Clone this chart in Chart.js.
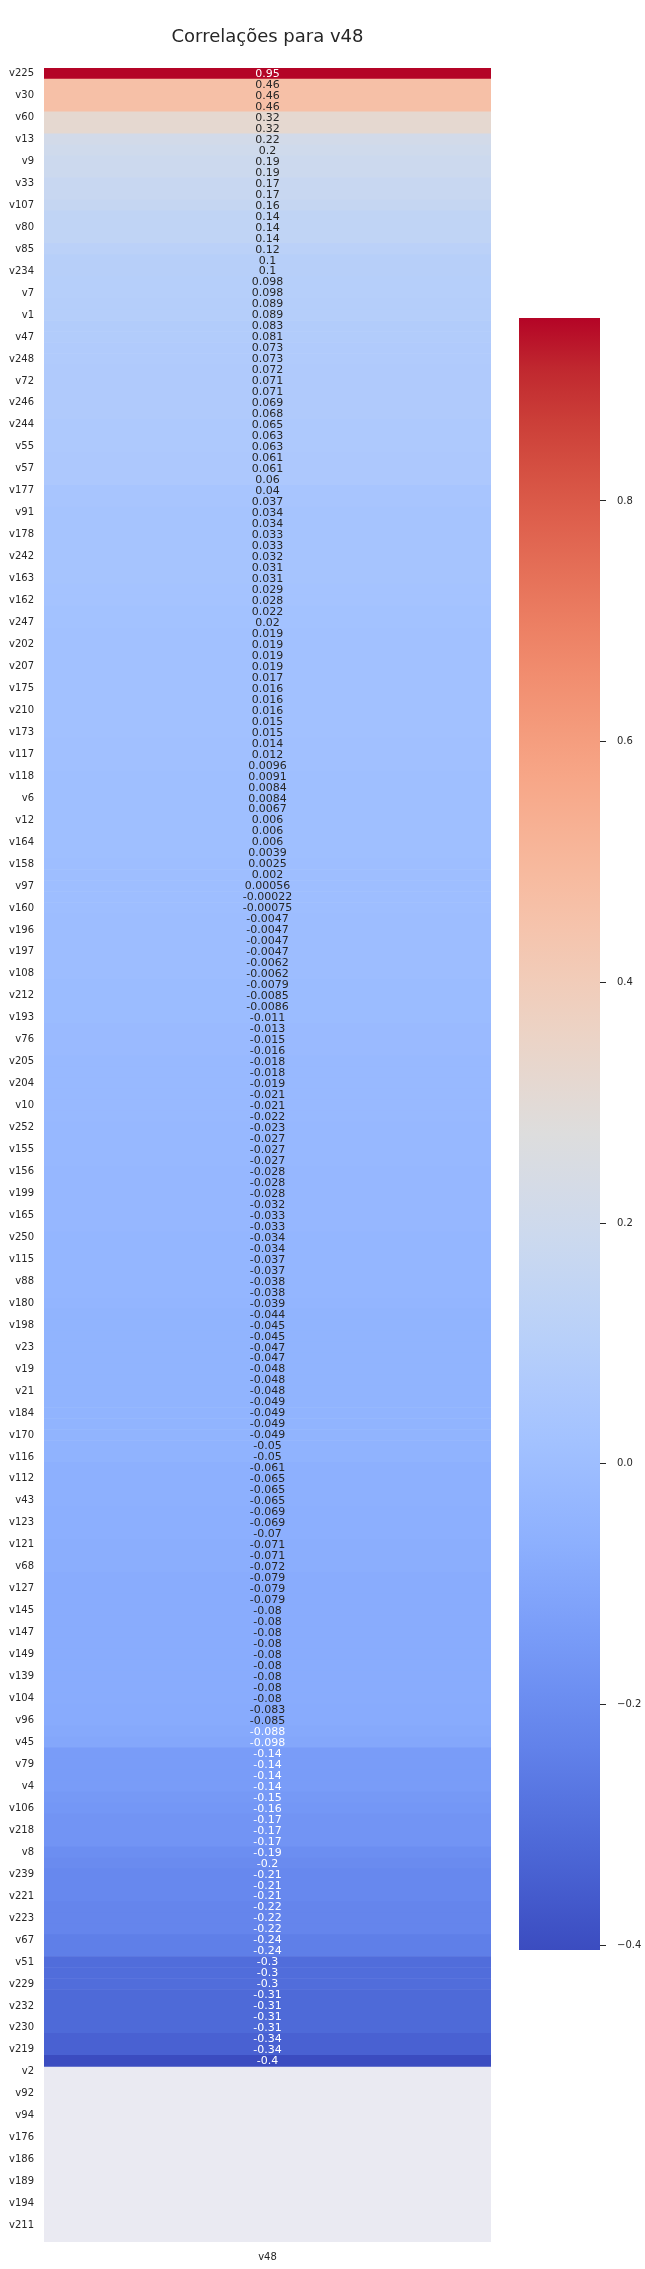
<!DOCTYPE html>
<html>
<head>
<meta charset="utf-8">
<script src="https://cdn.jsdelivr.net/npm/chart.js@4/dist/chart.umd.min.js"></script>
<style>
  body { margin: 0; background: #fff; }
  canvas { position: absolute; left: 0; top: 0; }
</style>
</head>
<body>
<canvas id="heat" width="645" height="2269"></canvas>
<canvas id="cbar" width="645" height="2269"></canvas>
<script>
// labels shown on the y axis (only every other row gets a label)
var shownLabels = ['v225','v30','v60','v13','v9','v33','v107','v80','v85','v234',
  'v7','v1','v47','v248','v72','v246','v244','v55','v57','v177',
  'v91','v178','v242','v163','v162','v247','v202','v207','v175','v210',
  'v173','v117','v118','v6','v12','v164','v158','v97','v160','v196',
  'v197','v108','v212','v193','v76','v205','v204','v10','v252','v155',
  'v156','v199','v165','v250','v115','v88','v180','v198','v23','v19',
  'v21','v184','v170','v116','v112','v43','v123','v121','v68','v127',
  'v145','v147','v149','v139','v104','v96','v45','v79','v4','v106',
  'v218','v8','v239','v221','v223','v67','v51','v229','v232','v230',
  'v219','v2','v92','v94','v176','v186','v189','v194','v211'];

var columns = ['v48'];

// correlation with v48, top to bottom (null = NaN)
var corr = [0.95, 0.46, 0.46, 0.46, 0.32, 0.32, 0.22, 0.2, 0.19, 0.19,
  0.17, 0.17, 0.16, 0.14, 0.14, 0.14, 0.12, 0.1, 0.1, 0.098,
  0.098, 0.089, 0.089, 0.083, 0.081, 0.073, 0.073, 0.072, 0.071, 0.071,
  0.069, 0.068, 0.065, 0.063, 0.063, 0.061, 0.061, 0.06, 0.04, 0.037,
  0.034, 0.034, 0.033, 0.033, 0.032, 0.031, 0.031, 0.029, 0.028, 0.022,
  0.02, 0.019, 0.019, 0.019, 0.019, 0.017, 0.016, 0.016, 0.016, 0.015,
  0.015, 0.014, 0.012, 0.0096, 0.0091, 0.0084, 0.0084, 0.0067, 0.006, 0.006,
  0.006, 0.0039, 0.0025, 0.002, 0.00056, -0.00022, -0.00075, -0.0047, -0.0047, -0.0047,
  -0.0047, -0.0062, -0.0062, -0.0079, -0.0085, -0.0086, -0.011, -0.013, -0.015, -0.016,
  -0.018, -0.018, -0.019, -0.021, -0.021, -0.022, -0.023, -0.027, -0.027, -0.027,
  -0.028, -0.028, -0.028, -0.032, -0.033, -0.033, -0.034, -0.034, -0.037, -0.037,
  -0.038, -0.038, -0.039, -0.044, -0.045, -0.045, -0.047, -0.047, -0.048, -0.048,
  -0.048, -0.049, -0.049, -0.049, -0.049, -0.05, -0.05, -0.061, -0.065, -0.065,
  -0.065, -0.069, -0.069, -0.07, -0.071, -0.071, -0.072, -0.079, -0.079, -0.079,
  -0.08, -0.08, -0.08, -0.08, -0.08, -0.08, -0.08, -0.08, -0.08, -0.083,
  -0.085, -0.088, -0.098, -0.14, -0.14, -0.14, -0.14, -0.15, -0.16, -0.17,
  -0.17, -0.17, -0.19, -0.2, -0.21, -0.21, -0.21, -0.22, -0.22, -0.22,
  -0.24, -0.24, -0.3, -0.3, -0.3, -0.31, -0.31, -0.31, -0.31, -0.34,
  -0.34, -0.4,
  null, null, null, null, null, null, null, null,
  null, null, null, null, null, null, null, null];

// colour scale limits (min / max of the unrounded data)
var colorRange = [-0.404, 0.952];
var cbarTicks = [-0.4, -0.2, 0.0, 0.2, 0.4, 0.6, 0.8];

var rowLabels = [];
shownLabels.forEach(function(l) { rowLabels.push(l, ''); });

var FONT = '"DejaVu Sans", sans-serif';
var TEXT = '#262626';

// coolwarm colormap, 33 points
var coolwarm = [[59,76,192],[68,90,204],[77,104,215],[87,117,225],[98,130,234],
  [108,142,241],[119,154,247],[130,165,251],[141,176,254],[152,185,255],
  [163,194,255],[174,201,253],[184,208,249],[194,213,244],[204,217,238],
  [213,219,230],[221,221,221],[229,216,209],[236,211,197],[241,204,185],
  [245,196,173],[247,187,160],[247,177,148],[247,166,135],[244,154,123],
  [241,141,111],[236,127,99],[229,112,88],[222,96,77],[213,80,66],
  [203,62,56],[192,40,47],[180,4,38]];

function cmapRgb(v) {
  var t = (v - colorRange[0]) / (colorRange[1] - colorRange[0]);
  t = Math.max(0, Math.min(1, t));
  var s = Math.min(255, Math.floor(t * 256)) / 255;
  var pos = s * 32, i = Math.min(31, Math.floor(pos)), f = pos - i;
  var a = coolwarm[i], b = coolwarm[i + 1];
  return [0, 1, 2].map(function(k) { return Math.round(a[k] + (b[k] - a[k]) * f); });
}
function rgbStr(c) { return 'rgb(' + c[0] + ',' + c[1] + ',' + c[2] + ')'; }

function textColor(v) {
  var c = cmapRgb(v).map(function(x) {
    x = x / 255;
    return x <= 0.03928 ? x / 12.92 : Math.pow((x + 0.055) / 1.055, 2.4);
  });
  var lum = 0.2126 * c[0] + 0.7152 * c[1] + 0.0722 * c[2];
  return lum > 0.408 ? TEXT : '#ffffff';
}

function fmt(v) { return String(Number(v.toPrecision(2))); }

var bgPlugin = {
  id: 'bg',
  beforeDraw: function(chart) {
    var a = chart.chartArea, ctx = chart.ctx;
    ctx.save();
    ctx.fillStyle = '#eaeaf2';
    ctx.fillRect(a.left, a.top, a.right - a.left, a.bottom - a.top);
    ctx.restore();
  }
};

var annotPlugin = {
  id: 'annot',
  afterDatasetsDraw: function(chart) {
    var ctx = chart.ctx;
    var meta = chart.getDatasetMeta(0);
    ctx.save();
    ctx.font = '11px ' + FONT;
    ctx.textAlign = 'center';
    ctx.textBaseline = 'middle';
    meta.data.forEach(function(bar, i) {
      var v = corr[i];
      if (v === null) return;
      ctx.fillStyle = textColor(v);
      ctx.fillText(fmt(v), (bar.x + bar.base) / 2, bar.y + 0.5);
    });
    ctx.restore();
  }
};

var titlePlugin = {
  id: 'ttl',
  afterDraw: function(chart) {
    var a = chart.chartArea, ctx = chart.ctx;
    ctx.save();
    ctx.font = '18px ' + FONT;
    ctx.fillStyle = TEXT;
    ctx.textAlign = 'center';
    ctx.textBaseline = 'middle';
    ctx.fillText('Correlações para ' + columns[0], (a.left + a.right) / 2, 37);
    ctx.restore();
  }
};

new Chart(document.getElementById('heat'), {
  type: 'bar',
  data: {
    labels: rowLabels,
    datasets: [{
      data: corr.map(function(v) { return v === null ? null : [0, 1]; }),
      backgroundColor: corr.map(function(v) { return v === null ? 'rgba(0,0,0,0)' : rgbStr(cmapRgb(v)); }),
      borderWidth: 0,
      barPercentage: 1,
      categoryPercentage: 1
    }]
  },
  options: {
    indexAxis: 'y',
    responsive: false,
    animation: false,
    layout: { padding: { top: 68, right: 154, left: 0, bottom: 0 } },
    plugins: { legend: { display: false }, tooltip: { enabled: false } },
    scales: {
      x: {
        min: 0, max: 1,
        grid: { display: false, drawTicks: false },
        border: { display: false },
        afterBuildTicks: function(s) { s.ticks = [{ value: 0.5 }]; },
        ticks: { callback: function() { return columns[0]; }, font: { family: FONT, size: 10 }, color: TEXT, padding: 9, maxRotation: 0 },
        afterFit: function(s) { s.height = 27; }
      },
      y: {
        grid: { display: false, drawTicks: false },
        border: { display: false },
        ticks: { autoSkip: false, font: { family: FONT, size: 10 }, color: TEXT, padding: 10 },
        afterFit: function(s) { s.width = 44; }
      }
    }
  },
  plugins: [bgPlugin, annotPlugin, titlePlugin]
});

new Chart(document.getElementById('cbar'), {
  type: 'bar',
  data: {
    labels: ['cbar'],
    datasets: [{
      data: [colorRange],
      backgroundColor: function(c) {
        var chart = c.chart;
        if (!chart.chartArea) return 'rgba(0,0,0,0)';
        var y = chart.scales.y;
        var g = chart.ctx.createLinearGradient(0, y.getPixelForValue(colorRange[0]), 0, y.getPixelForValue(colorRange[1]));
        coolwarm.forEach(function(col, k) { g.addColorStop(k / 32, rgbStr(col)); });
        return g;
      },
      borderWidth: 0,
      barPercentage: 1,
      categoryPercentage: 1
    }]
  },
  options: {
    responsive: false,
    animation: false,
    layout: { padding: { left: 519, top: 318, bottom: 319, right: 0 } },
    plugins: { legend: { display: false }, tooltip: { enabled: false } },
    scales: {
      x: { display: false },
      y: {
        position: 'right',
        min: colorRange[0], max: colorRange[1],
        afterBuildTicks: function(s) { s.ticks = cbarTicks.map(function(v) { return { value: v }; }); },
        ticks: {
          callback: function(v) { return v.toFixed(1).replace('-', '\u2212'); },
          font: { family: FONT, size: 10 }, color: TEXT, padding: 11
        },
        grid: { drawOnChartArea: false, drawTicks: true, tickLength: 6, color: TEXT },
        border: { display: false },
        afterFit: function(s) { s.width = 45; }
      }
    }
  }
});
</script>
</body>
</html>
